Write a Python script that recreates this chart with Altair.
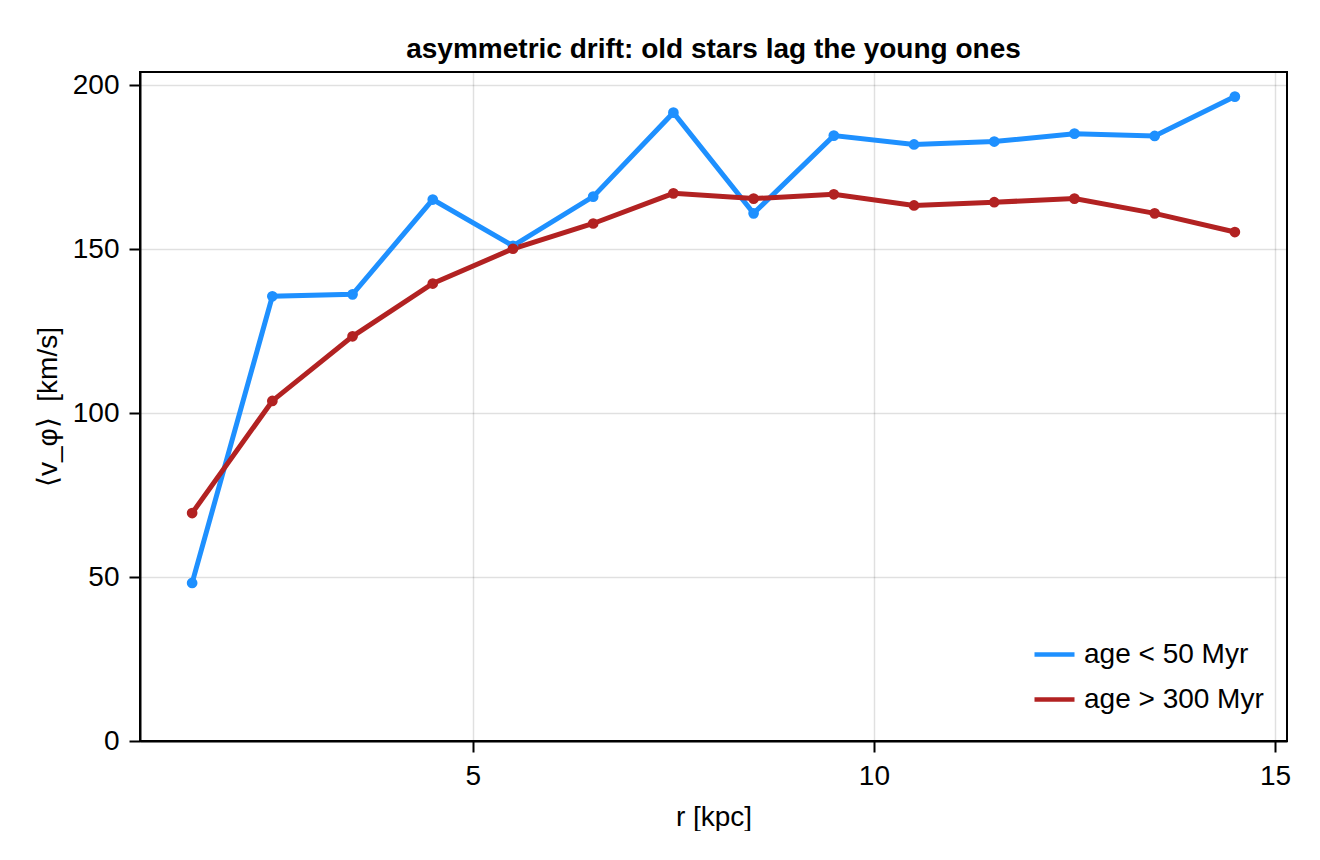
import altair as alt
import pandas as pd

r_kpc = [1.5, 2.5, 3.5, 4.5, 5.5, 6.5, 7.5, 8.5, 9.5, 10.5, 11.5, 12.5, 13.5, 14.5]
young = [48.2, 135.6, 136.2, 165.1, 151.0, 166.0, 191.6, 160.9, 184.6, 181.9, 182.8, 185.2, 184.5, 196.5]
old = [69.5, 103.7, 123.4, 139.5, 150.1, 157.8, 167.0, 165.4, 166.7, 163.3, 164.3, 165.4, 160.9, 155.2]
series_names = ["age < 50 Myr", "age > 300 Myr"]
series_colors = ["#1E90FF", "#B22222"]
x_ticks = [5, 10, 15]
y_ticks = [0, 50, 100, 150, 200]

rows = []
for name, vals in zip(series_names, [young, old]):
    for xv, yv in zip(r_kpc, vals):
        rows.append({"r": xv, "v": yv, "series": name})
df = pd.DataFrame(rows)

FONT = "Liberation Sans"
FS = 28

x_enc = alt.X(
    "r:Q",
    scale=alt.Scale(domain=[0.85, 15.15], nice=False, zero=False),
    axis=alt.Axis(values=x_ticks, title="r [kpc]", format="d"),
)
y_enc = alt.Y(
    "v:Q",
    scale=alt.Scale(domain=[0, 204], nice=False),
    axis=alt.Axis(values=y_ticks, title="⟨v_φ⟩\u00a0\u00a0[km/s]", format="d"),
)
color_enc = alt.Color(
    "series:N",
    scale=alt.Scale(domain=series_names, range=series_colors),
    legend=alt.Legend(
        title=None,
        orient="none",
        legendX=892,
        legendY=560,
        symbolType="stroke",
        symbolSize=1600,
        symbolStrokeWidth=4.5,
        labelFontSize=FS,
        labelFont=FONT,
        labelColor="black",
        labelLimit=500,
        rowPadding=8,
        labelOffset=7,
        padding=0,
    ),
)

base = alt.Chart(df).encode(x=x_enc, y=y_enc, color=color_enc)
lines = base.mark_line(strokeWidth=5)
points = base.mark_circle(size=115, opacity=1)

chart = (
    alt.layer(lines, points)
    .properties(
        width=1147,
        height=669,
        title=alt.TitleParams(
            "asymmetric drift: old stars lag the young ones",
            fontSize=FS,
            font=FONT,
            fontWeight="bold",
            color="black",
            anchor="middle",
            offset=7,
        ),
        autosize=alt.AutoSizeParams(type="none"),
        padding={"left": 132, "top": 64, "right": 25, "bottom": 90},
    )
    .configure_view(stroke="black", strokeWidth=2)
    .configure_axis(
        labelFont=FONT,
        labelFontSize=FS,
        labelColor="black",
        titleFont=FONT,
        titleFontSize=FS,
        titleFontWeight="normal",
        titleColor="black",
        domainColor="black",
        domainWidth=2,
        tickColor="black",
        tickWidth=2,
        tickSize=11,
        grid=True,
        gridColor="#000000",
        gridOpacity=0.12,
        gridWidth=1.5,
    )
    .configure_axisY(labelPadding=10, titlePadding=10)
    .configure_axisX(labelPadding=10, titlePadding=13)
)

chart.save("out.html", embed_options={"renderer": "svg", "actions": False})
